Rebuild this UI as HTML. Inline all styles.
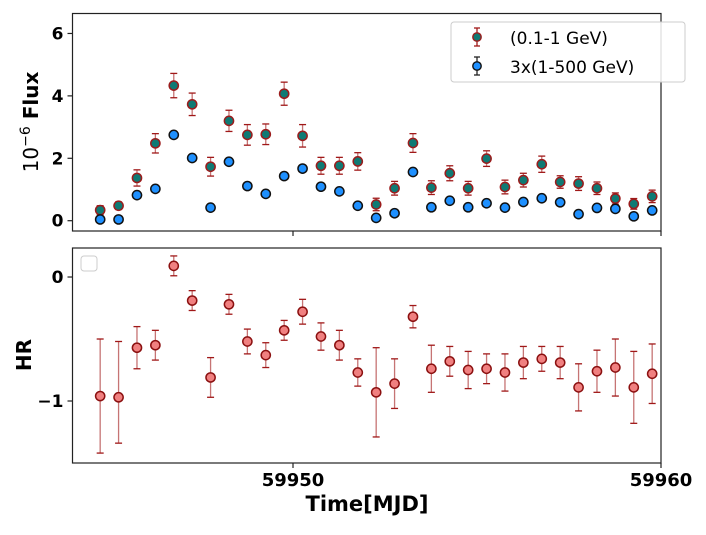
<!DOCTYPE html>
<html><head><meta charset="utf-8"><style>
html,body{margin:0;padding:0;background:#fff}
svg text{font-family:"DejaVu Sans","Liberation Sans",sans-serif}
</style></head><body>
<svg id="c" width="706" height="530" xmlns="http://www.w3.org/2000/svg"></svg>
<script>
const times=[];
const t0=59944.76;
const flux=[0.34,0.48,1.37,2.48,4.33,3.73,1.73,3.2,2.75,2.77,4.07,2.72,1.76,1.76,1.9,0.52,1.04,2.49,1.06,1.52,1.04,1.99,1.08,1.3,1.81,1.24,1.19,1.04,0.71,0.54,0.78];
const fluxErr=[0.14,0.12,0.26,0.31,0.39,0.36,0.3,0.34,0.33,0.33,0.37,0.36,0.27,0.27,0.28,0.2,0.22,0.3,0.22,0.24,0.22,0.25,0.22,0.22,0.26,0.2,0.22,0.2,0.18,0.17,0.2];
const fluxHigh=[0.04,0.04,0.82,1.02,2.75,2.01,0.42,1.89,1.11,0.86,1.43,1.67,1.09,0.94,0.48,0.09,0.24,1.56,0.43,0.64,0.43,0.56,0.42,0.6,0.72,0.59,0.21,0.41,0.38,0.14,0.33];
const hr=[-0.96,-0.97,-0.57,-0.55,0.09,-0.19,-0.81,-0.22,-0.52,-0.63,-0.43,-0.28,-0.48,-0.55,-0.77,-0.93,-0.86,-0.32,-0.74,-0.68,-0.75,-0.74,-0.77,-0.69,-0.66,-0.69,-0.89,-0.76,-0.73,-0.89,-0.78];
const hrErrUp=[0.46,0.45,0.17,0.12,0.08,0.08,0.16,0.08,0.1,0.1,0.08,0.1,0.11,0.12,0.11,0.36,0.2,0.09,0.19,0.12,0.15,0.12,0.15,0.13,0.1,0.13,0.19,0.17,0.23,0.29,0.24];
const hrErrDn=[0.46,0.37,0.17,0.12,0.08,0.08,0.16,0.08,0.1,0.1,0.08,0.1,0.11,0.12,0.11,0.36,0.2,0.09,0.19,0.12,0.15,0.12,0.15,0.13,0.1,0.13,0.19,0.17,0.23,0.29,0.24];
const xTicks=[59950,59960];
const fluxTicks=[0,2,4,6];
const hrTicks=[0,-1];
for(let i=0;i<flux.length;i++)times.push(t0+0.5*i);

const svg=document.getElementById('c');
const NS='http://www.w3.org/2000/svg';
function mk(tag,attrs,parent){const e=document.createElementNS(NS,tag);for(const k in attrs)e.setAttribute(k,attrs[k]);(parent||svg).appendChild(e);return e;}
const X0=72.5,X1=661,xmin=59944.008,xmax=59960;
const xs=t=>X0+(t-xmin)/(xmax-xmin)*(X1-X0);
const T={top:13.5,bot:231,min:-0.33,max:6.64};
const B={top:248,bot:463,min:-1.5,max:0.234};
const ys=(p,v)=>p.bot-(v-p.min)/(p.max-p.min)*(p.bot-p.top);

function panel(p,name){
  const r=mk('rect',{x:X0,y:p.top,width:X1-X0,height:p.bot-p.top,fill:'none',stroke:'#222','stroke-width':1.2});
  
  
  xTicks.forEach(t=>{const l=mk('line',{x1:xs(t),x2:xs(t),y1:p.bot,y2:p.bot+5,stroke:'#222','stroke-width':1.2});
    
    });
}
panel(T,'flux-panel');panel(B,'hr-panel');

function ytick(p,v,name){
  const y=ys(p,v);
  const l=mk('line',{x1:X0-5,x2:X0,y1:y,y2:y,stroke:'#222','stroke-width':1.2});
  
  
  const t=mk('text',{x:X0-9,y:y+6,'text-anchor':'end','font-size':17,'font-weight':'bold'});
  t.textContent=v===0?'0':(v<0?'\u2212'+Math.abs(v):String(v));
  
  
}
fluxTicks.forEach(v=>ytick(T,v,'flux-y'));
hrTicks.forEach(v=>ytick(B,v,'hr-y'));
xTicks.forEach(v=>{const t=mk('text',{x:xs(v),y:486,'text-anchor':'middle','font-size':18,'font-weight':'bold'});t.textContent=v;
  
  });

function errbar(x,y1,y2,col,name){
  const g=mk('g',{stroke:col,'stroke-width':1.3});
  
  
  mk('line',{x1:x,x2:x,y1:y1,y2:y2,'stroke-opacity':0.6},g);
  mk('line',{x1:x-3.5,x2:x+3.5,y1:y1,y2:y1},g);
  mk('line',{x1:x-3.5,x2:x+3.5,y1:y2,y2:y2},g);
}
function dot(x,y,fill,edge,name){
  const c=mk('circle',{cx:x,cy:y,r:4.6,fill:fill,stroke:edge,'stroke-width':1.5});
  
  
}
for(let i=0;i<times.length;i++){
  const x=xs(times[i]);
  errbar(x,ys(T,flux[i]+fluxErr[i]),ys(T,flux[i]-fluxErr[i]),'#a01818','flux-low-error');
  dot(x,ys(T,flux[i]),'#0f7a74','#9b1c1c','flux-low-point');
  dot(x,ys(T,fluxHigh[i]),'#1e90ff','#111','flux-high-point');
  errbar(x,ys(B,hr[i]+hrErrUp[i]),ys(B,hr[i]-hrErrDn[i]),'#a01818','hr-error');
  dot(x,ys(B,hr[i]),'#f08080','#8b1010','hr-point');
}
</script>
<svg width="706" height="530" style="position:absolute;left:0;top:0" xmlns="http://www.w3.org/2000/svg">
<g>
<rect x="451" y="22" width="234" height="60" rx="3" fill="#fff" fill-opacity="0.85" stroke="#ccc" stroke-width="1"/>
<g>
<line x1="477" x2="477" y1="28" y2="46" stroke="#a01818" stroke-width="1.3"/>
<line x1="474" x2="480" y1="28" y2="28" stroke="#a01818" stroke-width="1.3"/>
<line x1="474" x2="480" y1="46" y2="46" stroke="#a01818" stroke-width="1.3"/>
<circle cx="477" cy="37" r="4.2" fill="#0f7a74" stroke="#9b1c1c" stroke-width="1.4"/>
<text x="510" y="44" font-size="17" font-family="DejaVu Sans, Liberation Sans, sans-serif">(0.1-1 GeV)</text>
</g>
<g>
<line x1="477" x2="477" y1="57" y2="75" stroke="#222" stroke-width="1.3"/>
<line x1="474" x2="480" y1="57" y2="57" stroke="#222" stroke-width="1.3"/>
<line x1="474" x2="480" y1="75" y2="75" stroke="#222" stroke-width="1.3"/>
<circle cx="477" cy="66" r="4.2" fill="#1e90ff" stroke="#111" stroke-width="1.4"/>
<text x="510" y="73" font-size="17" font-family="DejaVu Sans, Liberation Sans, sans-serif">3x(1-500 GeV)</text>
</g>
</g>
<rect x="81" y="256" width="16" height="15" rx="3" fill="#fff" stroke="#ccc"/>
<text transform="translate(38,122) rotate(-90)" text-anchor="middle" font-size="20" font-family="DejaVu Sans, Liberation Sans, sans-serif">10<tspan dy="-8" font-size="14">−6</tspan><tspan dy="8" font-weight="bold"> Flux</tspan></text>
<text transform="translate(31,355) rotate(-90)" text-anchor="middle" font-size="20" font-weight="bold" font-family="DejaVu Sans, Liberation Sans, sans-serif">HR</text>
<text x="367" y="511" text-anchor="middle" font-size="21" font-weight="bold" font-family="DejaVu Sans, Liberation Sans, sans-serif">Time[MJD]</text>
</svg>
</body></html>
